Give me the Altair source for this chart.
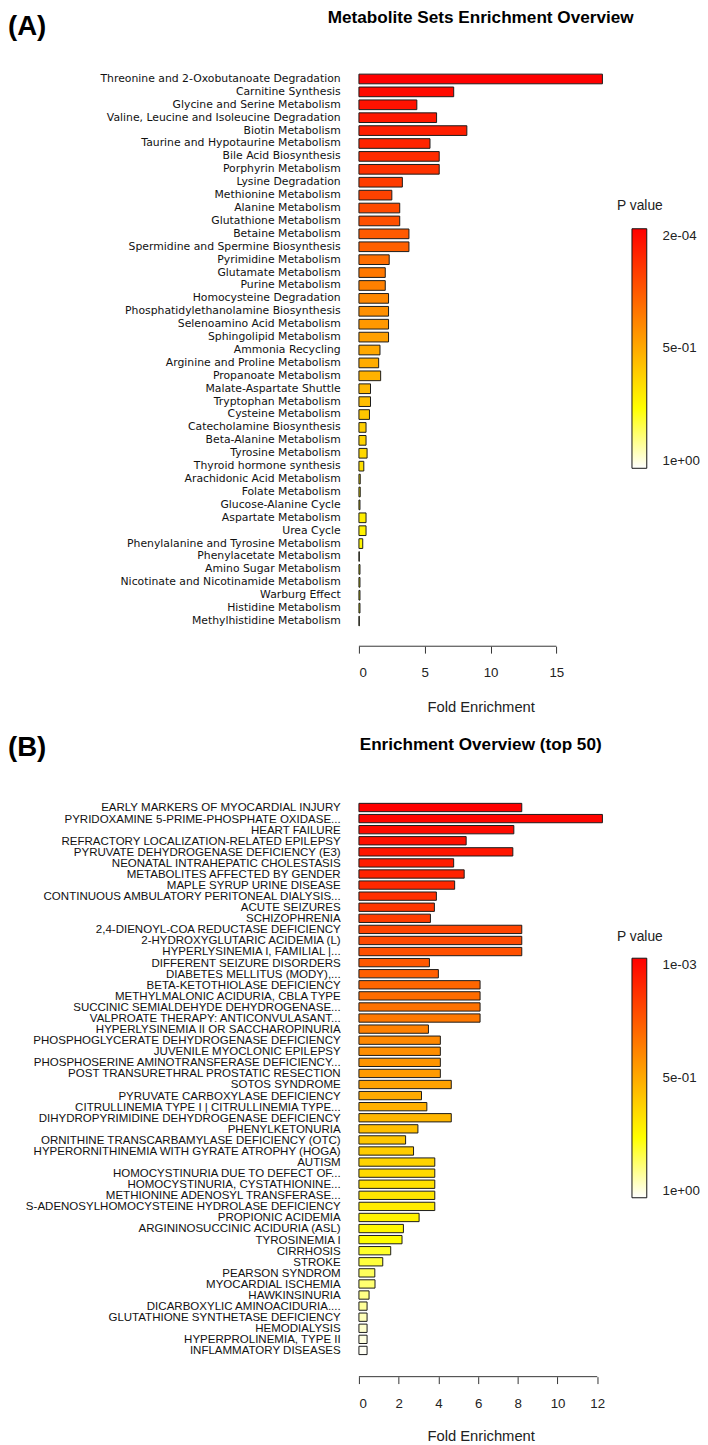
import altair as alt
import pandas as pd

# ---------------- Panel A data ----------------
a_names = [
    "Threonine and 2-Oxobutanoate Degradation", "Carnitine Synthesis",
    "Glycine and Serine Metabolism", "Valine, Leucine and Isoleucine Degradation",
    "Biotin Metabolism", "Taurine and Hypotaurine Metabolism", "Bile Acid Biosynthesis",
    "Porphyrin Metabolism", "Lysine Degradation", "Methionine Metabolism",
    "Alanine Metabolism", "Glutathione Metabolism", "Betaine Metabolism",
    "Spermidine and Spermine Biosynthesis", "Pyrimidine Metabolism",
    "Glutamate Metabolism", "Purine Metabolism", "Homocysteine Degradation",
    "Phosphatidylethanolamine Biosynthesis", "Selenoamino Acid Metabolism",
    "Sphingolipid Metabolism", "Ammonia Recycling", "Arginine and Proline Metabolism",
    "Propanoate Metabolism", "Malate-Aspartate Shuttle", "Tryptophan Metabolism",
    "Cysteine Metabolism", "Catecholamine Biosynthesis", "Beta-Alanine Metabolism",
    "Tyrosine Metabolism", "Thyroid hormone synthesis", "Arachidonic Acid Metabolism",
    "Folate Metabolism", "Glucose-Alanine Cycle", "Aspartate Metabolism", "Urea Cycle",
    "Phenylalanine and Tyrosine Metabolism", "Phenylacetate Metabolism",
    "Amino Sugar Metabolism", "Nicotinate and Nicotinamide Metabolism",
    "Warburg Effect", "Histidine Metabolism", "Methylhistidine Metabolism",
]
a_fold = [
    18.5, 7.2, 4.4, 5.9, 8.2, 5.4, 6.1, 6.1, 3.3, 2.5, 3.1, 3.1, 3.8, 3.8,
    2.3, 2.0, 2.0, 2.25, 2.25, 2.25, 2.25, 1.6, 1.5, 1.65, 0.88, 0.88, 0.8,
    0.54, 0.54, 0.62, 0.37, 0.1, 0.1, 0.08, 0.54, 0.54, 0.29, 0.03, 0.08,
    0.08, 0.08, 0.08, 0.03,
]
a_p = [
    0.0002, 0.029, 0.053, 0.071, 0.088, 0.106, 0.129, 0.147, 0.176, 0.194,
    0.218, 0.235, 0.265, 0.282, 0.324, 0.353, 0.376, 0.40, 0.424, 0.447,
    0.471, 0.494, 0.506, 0.524, 0.541, 0.559, 0.582, 0.606, 0.624, 0.635,
    0.653, 0.665, 0.676, 0.688, 0.70, 0.712, 0.724, 0.729, 0.735, 0.741,
    0.747, 0.76, 0.77,
]
a_ticks = [0, 5, 10, 15]
a_legend = [0.0002, 0.5, 1.0]

# ---------------- Panel B data ----------------
b_names = [
    "EARLY MARKERS OF MYOCARDIAL INJURY", "PYRIDOXAMINE 5-PRIME-PHOSPHATE OXIDASE...",
    "HEART FAILURE", "REFRACTORY LOCALIZATION-RELATED EPILEPSY",
    "PYRUVATE DEHYDROGENASE DEFICIENCY (E3)", "NEONATAL INTRAHEPATIC CHOLESTASIS",
    "METABOLITES AFFECTED BY GENDER", "MAPLE SYRUP URINE DISEASE",
    "CONTINUOUS AMBULATORY PERITONEAL DIALYSIS...", "ACUTE SEIZURES", "SCHIZOPHRENIA",
    "2,4-DIENOYL-COA REDUCTASE DEFICIENCY", "2-HYDROXYGLUTARIC ACIDEMIA (L)",
    "HYPERLYSINEMIA I, FAMILIAL |...", "DIFFERENT SEIZURE DISORDERS",
    "DIABETES MELLITUS (MODY),...", "BETA-KETOTHIOLASE DEFICIENCY",
    "METHYLMALONIC ACIDURIA, CBLA TYPE", "SUCCINIC SEMIALDEHYDE DEHYDROGENASE...",
    "VALPROATE THERAPY: ANTICONVULASANT...", "HYPERLYSINEMIA II OR SACCHAROPINURIA",
    "PHOSPHOGLYCERATE DEHYDROGENASE DEFICIENCY", "JUVENILE MYOCLONIC EPILEPSY",
    "PHOSPHOSERINE AMINOTRANSFERASE DEFICIENCY...", "POST TRANSURETHRAL PROSTATIC RESECTION",
    "SOTOS SYNDROME", "PYRUVATE CARBOXYLASE DEFICIENCY",
    "CITRULLINEMIA TYPE I | CITRULLINEMIA TYPE...", "DIHYDROPYRIMIDINE DEHYDROGENASE DEFICIENCY",
    "PHENYLKETONURIA", "ORNITHINE TRANSCARBAMYLASE DEFICIENCY (OTC)",
    "HYPERORNITHINEMIA WITH GYRATE ATROPHY (HOGA)", "AUTISM",
    "HOMOCYSTINURIA DUE TO DEFECT OF...", "HOMOCYSTINURIA, CYSTATHIONINE...",
    "METHIONINE ADENOSYL TRANSFERASE...", "S-ADENOSYLHOMOCYSTEINE HYDROLASE DEFICIENCY",
    "PROPIONIC ACIDEMIA", "ARGININOSUCCINIC ACIDURIA (ASL)", "TYROSINEMIA I",
    "CIRRHOSIS", "STROKE", "PEARSON SYNDROM", "MYOCARDIAL ISCHEMIA", "HAWKINSINURIA",
    "DICARBOXYLIC AMINOACIDURIA....", "GLUTATHIONE SYNTHETASE DEFICIENCY",
    "HEMODIALYSIS", "HYPERPROLINEMIA, TYPE II", "INFLAMMATORY DISEASES",
]
b_fold = [
    8.2, 12.26, 7.8, 5.4, 7.75, 4.77, 5.3, 4.82, 3.9, 3.8, 3.6, 8.2, 8.2, 8.2,
    3.55, 4.0, 6.1, 6.1, 6.1, 6.1, 3.5, 4.1, 4.1, 4.1, 4.1, 4.65, 3.15, 3.42,
    4.65, 2.97, 2.35, 2.75, 3.82, 3.82, 3.82, 3.82, 3.82, 3.03, 2.24, 2.17,
    1.6, 1.2, 0.8, 0.81, 0.51, 0.41, 0.41, 0.41, 0.41, 0.41,
]
b_p = [
    0.001, 0.015, 0.03, 0.047, 0.065, 0.082, 0.10, 0.118, 0.14, 0.16, 0.176,
    0.20, 0.218, 0.235, 0.26, 0.276, 0.30, 0.318, 0.335, 0.353, 0.376, 0.40,
    0.418, 0.435, 0.453, 0.476, 0.50, 0.518, 0.535, 0.559, 0.582, 0.60, 0.624,
    0.641, 0.659, 0.676, 0.694, 0.712, 0.729, 0.747, 0.79, 0.81, 0.84, 0.86,
    0.88, 0.90, 0.93, 0.95, 0.97, 0.99,
]
b_ticks = [0, 2, 4, 6, 8, 10, 12]
b_legend = [0.001, 0.5, 1.0]

FONT = "Liberation Sans, Arial, Helvetica, sans-serif"
# heat palette stops (white -> yellow -> orange -> red), running on -p
HEAT_STOPS = [-1.0, -0.75, -0.5, -0.25]
HEAT_COLORS = ["#ffffff", "#ffff00", "#ffaa00", "#ff5500", "#ff0000"]
LABEL_EXPR = ("replace(replace(format(-datum.value, '.0e'), 'e-', 'e-0'), "
              "'e+', 'e+0')")


def panel(names, fold, pvals, ticks, legend_vals, title, tag, step,
          label_font, label_size, title_y, tag_y, pv_y, axis_offset,
          axis_title_pad):
    n = len(names)
    height = round(n * step)
    width = 247
    df = pd.DataFrame({"name": names, "fold": fold, "p": pvals})

    bars = alt.Chart(df).transform_calculate(
        negp="-datum.p"
    ).mark_bar(stroke="#1a1a1a", strokeWidth=1).encode(
        x=alt.X(
            "fold:Q",
            scale=alt.Scale(domain=[0, max(fold)], nice=False),
            axis=alt.Axis(
                values=ticks, domain=False, grid=False, tickSize=7,
                tickColor="#333", tickWidth=1, offset=axis_offset,
                labelPadding=13, labelFont=FONT, labelFontSize=13.5,
                labelColor="#222", title="Fold Enrichment", titleFont=FONT,
                titleFontSize=15, titleFontWeight="normal", titleColor="#222",
                titlePadding=axis_title_pad,
            ),
        ),
        y=alt.Y(
            "name:N", sort=None,
            scale=alt.Scale(paddingInner=0.25, paddingOuter=0.125),
            axis=alt.Axis(
                title=None, ticks=False, domain=False, labelPadding=19,
                labelFont=label_font, labelFontSize=label_size,
                labelColor="#111", labelLimit=337,
            ),
        ),
        color=alt.Color(
            "negp:Q",
            scale=alt.Scale(
                type="linear", domain=HEAT_STOPS + [-pvals[0]],
                range=HEAT_COLORS, interpolate="rgb", zero=False, nice=False,
            ),
            legend=alt.Legend(
                orient="none", legendX=277, legendY=158.5, title=None,
                direction="vertical", gradientLength=243, gradientThickness=15,
                gradientStrokeColor="#111", gradientStrokeWidth=1,
                values=[-v for v in legend_vals], labelExpr=LABEL_EXPR,
                labelFont=FONT, labelFontSize=13.5, labelColor="#222",
                labelOffset=16, labelBaseline="middle",
            ),
        ),
    )

    axis_line = alt.Chart(pd.DataFrame({"k": [0]})).mark_rule(
        color="#333", strokeWidth=1
    ).encode(
        x=alt.datum(ticks[0]), x2=alt.datum(ticks[-1]),
        y=alt.value(height + axis_offset),
    )

    pv = alt.Chart(pd.DataFrame({"t": ["P value"]})).mark_text(
        font=FONT, fontSize=14, color="#222", align="center", baseline="middle"
    ).encode(text="t:N", x=alt.value(285), y=alt.value(pv_y))

    ttl = alt.Chart(pd.DataFrame({"t": [title]})).mark_text(
        font=FONT, fontSize=17.4, fontWeight="bold", color="#000",
        align="center", baseline="middle"
    ).encode(text="t:N", x=alt.value(width / 2), y=alt.value(title_y))

    tg = alt.Chart(pd.DataFrame({"t": [tag]})).mark_text(
        font=FONT, fontSize=28, fontWeight="bold", color="#000",
        align="left", baseline="middle"
    ).encode(text="t:N", x=alt.value(-356), y=alt.value(tag_y))

    return alt.layer(bars, axis_line, pv, ttl, tg).properties(
        width=width, height=height,
    )


pa = panel(a_names, a_fold, a_p, a_ticks, a_legend,
           "Metabolite Sets Enrichment Overview", "(A)", 13.1,
           "DejaVu Sans", 11.0, -55.5, -46, 135, 19, 21)
pb = panel(b_names, b_fold, b_p, b_ticks, b_legend,
           "Enrichment Overview (top 50)", "(B)", 11.25,
           FONT, 11.7, -57.5, -55, 137, 21, 19)

chart = alt.vconcat(pa, pb, spacing=19).resolve_scale(
    color="independent", x="independent", y="independent"
).properties(
    padding={"top": -10, "left": 0, "right": 0, "bottom": 0}
).configure_view(stroke=None)

chart.save("out.html", embed_options={"renderer": "svg", "actions": False})
